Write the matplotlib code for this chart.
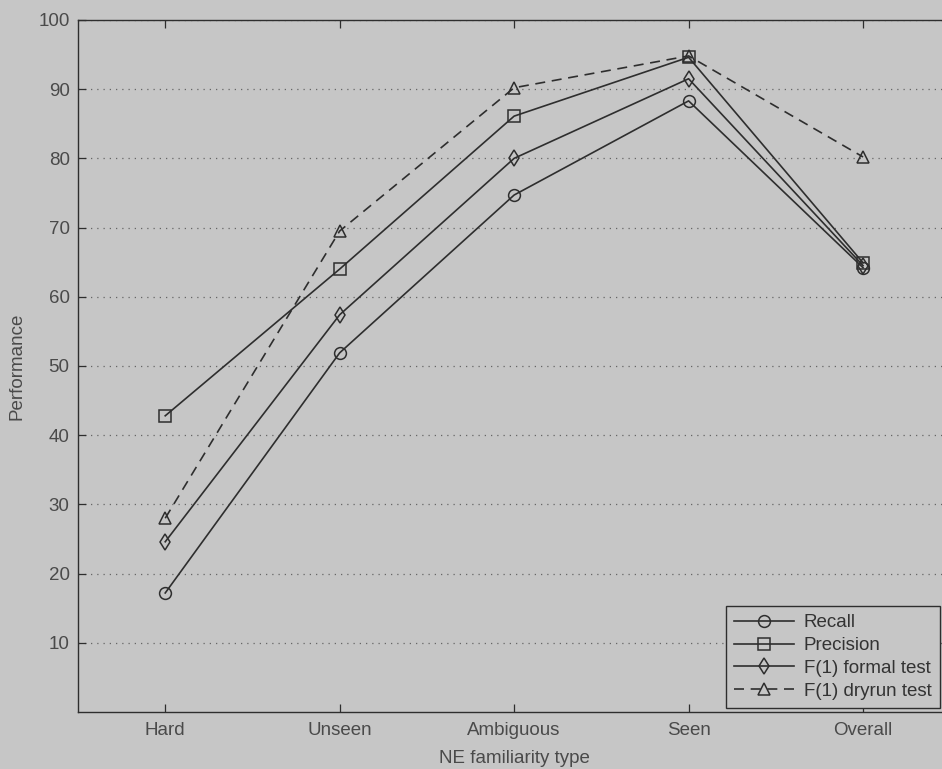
import matplotlib
matplotlib.use('Agg')
import matplotlib.pyplot as plt
import numpy as np

categories = ['Hard', 'Unseen', 'Ambiguous', 'Seen', 'Overall']
recall = [17.2, 51.9, 74.7, 88.3, 64.2]
precision = [42.8, 64.0, 86.1, 94.6, 64.9]
f1_formal = [24.6, 57.4, 80.0, 91.5, 64.5]
f1_dryrun = [28.0, 69.5, 90.2, 94.8, 80.2]
yticks = [10, 20, 30, 40, 50, 60, 70, 80, 90, 100]

bg = '#c6c6c6'
ink = '#2e2e2e'
txt = '#4a4a4a'

plt.rcParams['font.family'] = ['Liberation Sans', 'DejaVu Sans']
plt.rcParams['font.size'] = 13.5

fig = plt.figure(figsize=(9.42, 7.69), dpi=100, facecolor=bg)
ax = fig.add_axes([0.0828, 0.0741, 0.926, 0.900])
ax.set_facecolor(bg)

x = np.arange(1, len(categories) + 1)
style = dict(color=ink, lw=1.2, markersize=8.5, markerfacecolor='none',
             markeredgecolor=ink, markeredgewidth=1.1)
ax.plot(x, recall, '-o', label='Recall', **style)
ax.plot(x, precision, '-s', label='Precision', **style)
ax.plot(x, f1_formal, '-d', label='F(1) formal test', **style)
ax.plot(x, f1_dryrun, '^', linestyle=(0, (6, 4)), label='F(1) dryrun test', **style)

ax.set_xlim(0.5, 5.5)
ax.set_ylim(0, 100)
ax.set_xticks(x)
ax.set_xticklabels(categories)
ax.set_yticks(yticks)
ax.yaxis.grid(True, linestyle=(0, (1, 4)), color='#666666', lw=0.9)
ax.tick_params(direction='in', length=6, width=0.9, colors=ink, labelcolor=txt,
               top=True, right=True)
ax.tick_params(axis='x', pad=7)
ax.tick_params(axis='y', pad=6)
for s in ax.spines.values():
    s.set_color(ink)
    s.set_linewidth(1.0)

ax.set_xlabel('NE familiarity type', color=txt, labelpad=8)
ax.set_ylabel('Performance', color=txt, labelpad=9)

leg = ax.legend(loc='lower right', bbox_to_anchor=(940 / 942, 61 / 769),
                bbox_transform=fig.transFigure, borderaxespad=0,
                handlelength=3.2, fancybox=False, framealpha=1,
                edgecolor=ink, facecolor=bg, labelspacing=0.3,
                borderpad=0.45, handletextpad=0.5)
leg.get_frame().set_linewidth(1.0)
for t in leg.get_texts():
    t.set_color('#333333')

fig.savefig('out.png', dpi=100, facecolor=bg)
